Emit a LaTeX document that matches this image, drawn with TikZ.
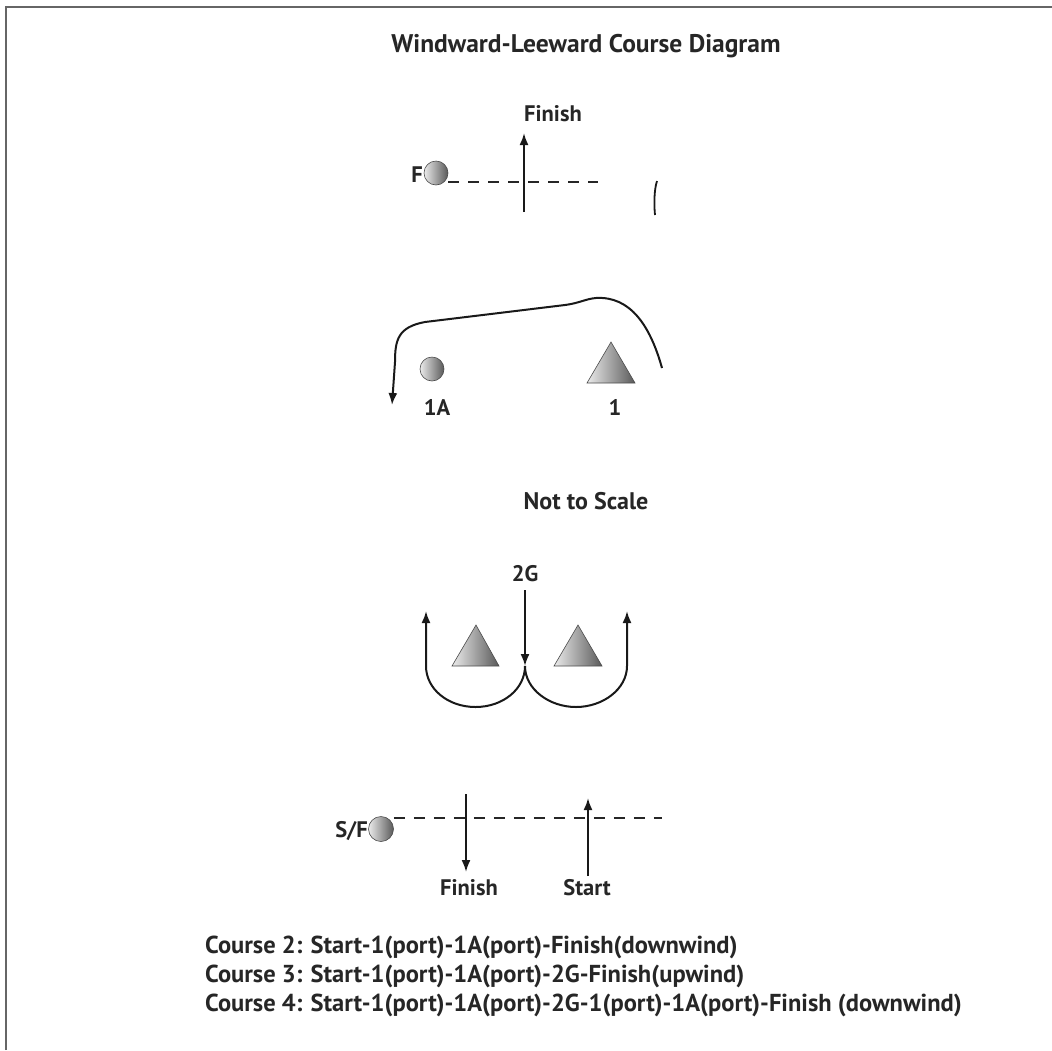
\documentclass[tikz,border=0pt]{standalone}
\usepackage{fontspec}
\setmainfont{PT Sans}
\usetikzlibrary{arrows.meta}
\begin{document}
\begin{tikzpicture}[x=1pt,y=-1pt,
  frameline/.style={draw=black!60,line width=1.5pt},
  lbl/.style={font=\bfseries\fontsize{22.5}{26}\selectfont,text=black!85,inner sep=0pt},
  course/.style={font=\bfseries\fontsize{24.5}{28}\selectfont,text=black!85,inner sep=0pt,anchor=west},
  buoy/.style={circle,minimum size=24pt,inner sep=0pt,draw=black!70,line width=0.6pt,
    shading=axis,left color=black!8,right color=black!65,shading angle=90},
  trimark/.style={draw=black!70,line width=0.6pt,shading=axis,left color=black!8,right color=black!65,shading angle=90},
  course line/.style={line width=2pt,draw=black!90},
  arr/.style={course line,-{Latex[length=12pt,width=9pt]}},
  lineline/.style={line width=2.5pt,draw=black!85,dash pattern=on 11pt off 9pt}
]
\useasboundingbox (0,0) rectangle (1052,1050);
\fill[white] (0,0) rectangle (1052,1050);

% frame
\draw[frameline] (6,1050) -- (6,7) -- (1052,7);

% title
\node[lbl,font=\bfseries\fontsize{25.5}{30}\selectfont] (title) at (586,46) {Windward-Leeward Course Diagram};

% finish line at the windward end
\node[buoy] (F) at (436,173) {};
\node[lbl,anchor=east] (Flbl) at (423,175) {F};
\coordinate (flend) at (598,182);
\draw[lineline] (F.east |- flend) -- (flend);
\coordinate (finA) at (524,212);
\coordinate (finB) at (524,133);
\draw[arr] (finA) -- (finB);
\node[lbl] (finlbl) at (553,114) {Finish};
\coordinate (frag) at (657,181);
\draw[line width=1.8pt,black!90] (frag) .. controls (654,190) and (654,205) .. (655,215);

% marks 1 and 1A
\node[buoy] (m1A) at (432,369) {};
\node[lbl] (l1A) at (437,407) {1A};
\path[trimark] (611,342) -- (635,383) -- (587,383) -- cycle;
\coordinate (m1) at (611,365);
\node[lbl] (l1) at (615,407) {1};

% rounding 1 and 1A
\coordinate (r1) at (662,368);
\coordinate (r1A) at (392,405);
\draw[course line,-{Latex[length=12pt,width=9pt]}] (r1) .. controls (650,325) and (630,296) .. (596,298)
  .. controls (585,299) and (580,303) .. (565,305)
  -- (425,322) .. controls (398,327) and (395,340) .. (395,362)
  -- (r1A);

% scale note
\node[lbl,font=\bfseries\fontsize{24}{28}\selectfont] (note) at (586,501) {Not to Scale};

% gate 2G
\node[lbl] (l2G) at (525,574) {2G};
\coordinate (gtop) at (525,590);
\coordinate (gbot) at (525,666);
\draw[arr] (gtop) -- (gbot);
\path[trimark] (476,625) -- (499,666) -- (452,666) -- cycle;
\path[trimark] (578,625) -- (602,666) -- (554,666) -- cycle;
\coordinate (gl) at (426,611);
\coordinate (gr) at (627,611);
\draw[arr] (gbot) .. controls (525,689) and (503,707) .. (475.5,707)
  .. controls (448,707) and (426,689) .. (426,666) -- (gl);
\draw[arr] (gbot) .. controls (525,689) and (549,707) .. (576,707)
  .. controls (603,707) and (627,689) .. (627,666) -- (gr);

% start / finish line at the leeward end
\node[buoy,minimum size=25pt] (SF) at (381,829) {};
\node[lbl,anchor=east] (SFlbl) at (368,831) {S/F};
\coordinate (slend) at (662,818);
\draw[lineline] (SF.east |- slend) -- (slend);
\coordinate (dfA) at (466,794);
\coordinate (dfB) at (466,872);
\draw[arr] (dfA) -- (dfB);
\node[lbl] (dflbl) at (469,888) {Finish};
\coordinate (stA) at (588,876);
\coordinate (stB) at (588,798);
\draw[arr] (stA) -- (stB);
\node[lbl] (stlbl) at (587,888) {Start};

% course descriptions
\node[course] (c2) at (205,947) {Course 2: Start-1(port)-1A(port)-Finish(downwind)};
\node[course] (c3) at (205,976) {Course 3: Start-1(port)-1A(port)-2G-Finish(upwind)};
\node[course] (c4) at (205,1005) {Course 4: Start-1(port)-1A(port)-2G-1(port)-1A(port)-Finish (downwind)};
\end{tikzpicture}
\end{document}
